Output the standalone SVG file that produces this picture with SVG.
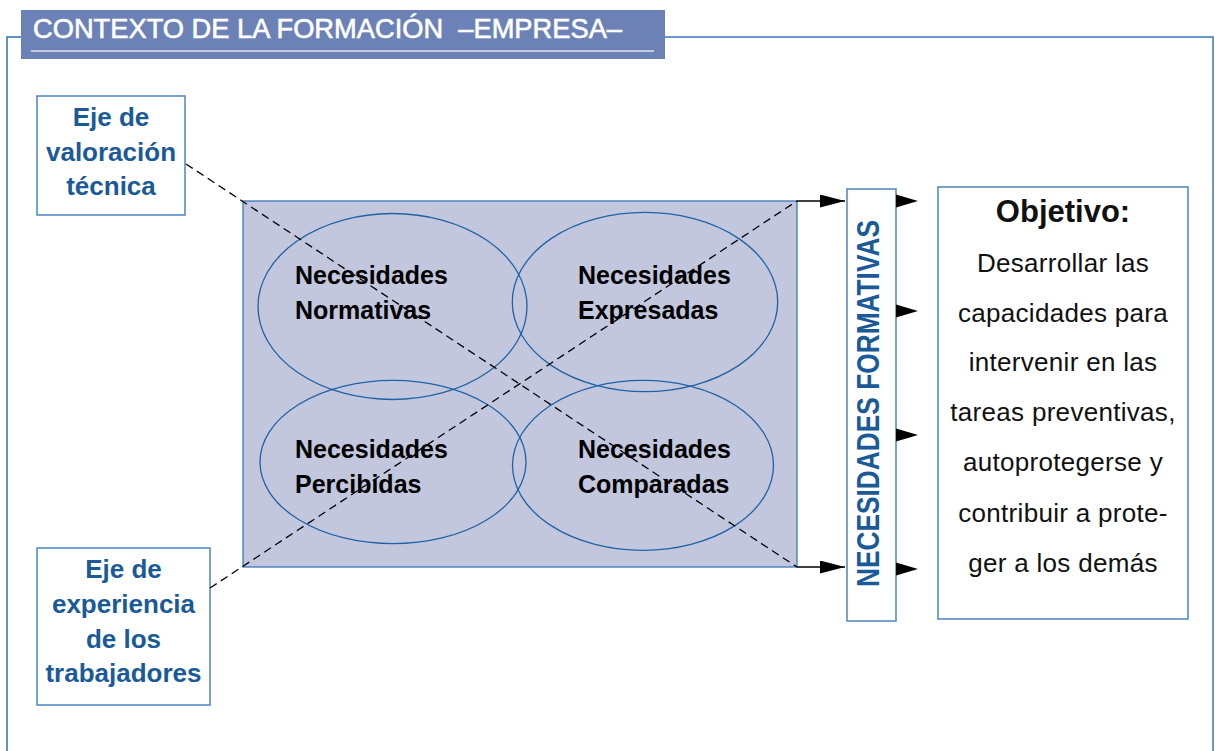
<svg xmlns="http://www.w3.org/2000/svg" width="1215" height="751" viewBox="0 0 1215 751">
<style>
.frame{fill:none;stroke:#2f6fae;stroke-width:1.5}
.box{fill:#fff;stroke:#4a86c0;stroke-width:1.5}
.btxt{font-family:"Liberation Sans",Arial,sans-serif;font-weight:bold;font-size:26px;fill:#1b5a98;text-anchor:middle}
.ntxt{font-family:"Liberation Sans",Arial,sans-serif;font-weight:bold;font-size:25px;fill:#000}
.otxt{font-family:"Liberation Sans",Arial,sans-serif;font-size:26px;fill:#111;text-anchor:middle;letter-spacing:0.3px}
.ell{fill:none;stroke:#1e62a6;stroke-width:1.3}
.dash{fill:none;stroke:#000;stroke-width:1.3;stroke-dasharray:8 5}
.arr{fill:none;stroke:#000;stroke-width:1.3}
</style>
<defs>
<marker id="ah" markerUnits="userSpaceOnUse" markerWidth="26" markerHeight="14" refX="25" refY="6.5" orient="auto">
<path d="M0,0 L25,6.5 L0,13 Z" fill="#000"/>
</marker>
<path id="head" d="M0,-6.5 L22,0 L0,6.5 Z" fill="#000"/>
</defs>
<rect width="1215" height="751" fill="#fff"/>
<g id="frame">
<path class="frame" d="M21,37 H7 V751"/>
<path class="frame" d="M665,37 H1213 V751" style="stroke:#3a7ab8"/>
</g>
<g id="title">
<rect x="21" y="10" width="644" height="49" fill="#6c82b6"/>
<line x1="31" y1="51" x2="654" y2="51" stroke="#c3cbe0" stroke-width="2"/>
<text x="33" y="38" font-family="'Liberation Sans',Arial,sans-serif" font-size="27.5" fill="#fff" stroke="#fff" stroke-width="0.6" textLength="589" lengthAdjust="spacingAndGlyphs" xml:space="preserve">CONTEXTO DE LA FORMACIÓN  –EMPRESA–</text>
</g>
<g id="eje-valoracion">
<rect class="box" x="37" y="96" width="148" height="119"/>
<text class="btxt" x="111" y="126">Eje de</text>
<text class="btxt" x="111" y="161">valoración</text>
<text class="btxt" x="111" y="195">técnica</text>
</g>
<g id="eje-experiencia">
<rect class="box" x="37" y="548" width="173" height="157"/>
<text class="btxt" x="123.5" y="578">Eje de</text>
<text class="btxt" x="123.5" y="613">experiencia</text>
<text class="btxt" x="123.5" y="648">de los</text>
<text class="btxt" x="123.5" y="682">trabajadores</text>
</g>
<g id="necesidades">
<rect x="243" y="201" width="554" height="366" fill="#c3c7de" stroke="#3a78b8" stroke-width="1.3"/>
<g id="normativas">
<ellipse class="ell" cx="392.5" cy="306.5" rx="134.5" ry="93"/>
<text class="ntxt" x="295" y="284">Necesidades</text>
<text class="ntxt" x="295" y="319">Normativas</text>
</g>
<g id="expresadas">
<ellipse class="ell" cx="645" cy="302" rx="132.7" ry="89.6"/>
<text class="ntxt" x="578" y="284">Necesidades</text>
<text class="ntxt" x="578" y="319">Expresadas</text>
</g>
<g id="percibidas">
<ellipse class="ell" cx="393" cy="462" rx="133" ry="81.7"/>
<text class="ntxt" x="295" y="458">Necesidades</text>
<text class="ntxt" x="295" y="493">Percibidas</text>
</g>
<g id="comparadas">
<ellipse class="ell" cx="643" cy="465.3" rx="130.5" ry="85"/>
<text class="ntxt" x="578" y="458">Necesidades</text>
<text class="ntxt" x="578" y="493">Comparadas</text>
</g>
</g>
<g id="necesidades-formativas">
<rect class="box" x="847" y="189" width="49" height="432"/>
<text transform="translate(879,403.5) rotate(-90)" x="0" y="0" text-anchor="middle" font-family="'Liberation Sans',Arial,sans-serif" font-weight="bold" font-size="31" fill="#1b5a98" textLength="367" lengthAdjust="spacingAndGlyphs">NECESIDADES FORMATIVAS</text>
</g>
<g id="objetivo">
<rect class="box" x="938" y="187" width="250" height="432"/>
<text x="1063" y="222" text-anchor="middle" font-family="'Liberation Sans',Arial,sans-serif" font-weight="bold" font-size="31" fill="#111">Objetivo:</text>
<text class="otxt" x="1063" y="272">Desarrollar las</text>
<text class="otxt" x="1063" y="322">capacidades para</text>
<text class="otxt" x="1063" y="371">intervenir en las</text>
<text class="otxt" x="1063" y="421">tareas preventivas,</text>
<text class="otxt" x="1063" y="471">autoprotegerse y</text>
<text class="otxt" x="1063" y="522">contribuir a prote-</text>
<text class="otxt" x="1063" y="572">ger a los demás</text>
</g>
<g id="connectors">
<line class="dash" x1="186" y1="164" x2="797" y2="567"/>
<line class="dash" x1="210" y1="588" x2="797" y2="201"/>
<line class="arr" x1="797" y1="201" x2="845" y2="201" marker-end="url(#ah)"/>
<line class="arr" x1="797" y1="567" x2="845" y2="567" marker-end="url(#ah)"/>
<use href="#head" x="896" y="201"/>
<use href="#head" x="896" y="311"/>
<use href="#head" x="896" y="435"/>
<use href="#head" x="896" y="569"/>
</g>
</svg>
